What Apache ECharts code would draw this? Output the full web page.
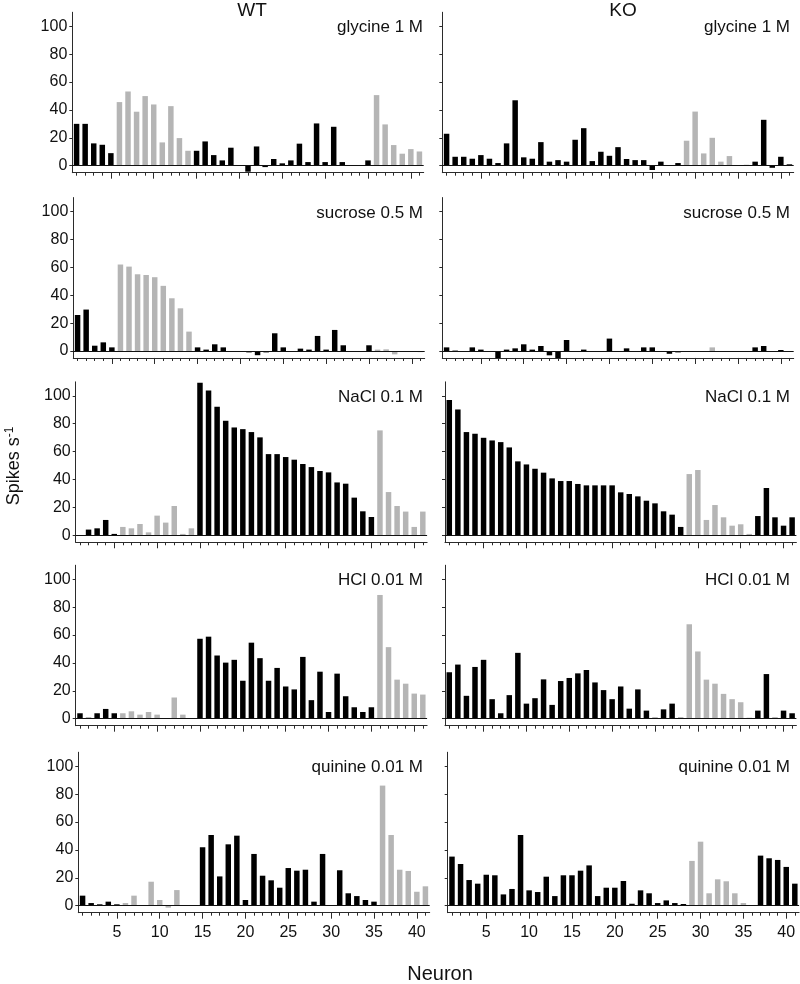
<!DOCTYPE html>
<html><head><meta charset="utf-8">
<script src="https://cdn.jsdelivr.net/npm/echarts@6/dist/echarts.min.js"></script>
<style>html,body{margin:0;padding:0;background:#fff}#c{width:800px;height:984px}</style>
</head><body><div id="c"></div>
<script>
// ---------- data ----------
const neurons = Array.from({length: 41}, (_, i) => String(i + 1));
const tastants = ['glycine 1 M', 'sucrose 0.5 M', 'NaCl 0.1 M', 'HCl 0.01 M', 'quinine 0.01 M'];
const genotypes = ['WT', 'KO'];
const yTickValues = [0, 20, 40, 60, 80, 100];
const wtGrayNeurons = [6, 7, 8, 9, 10, 11, 12, 13, 14, 36, 37, 38, 39, 40, 41];
const koGrayNeurons = [29, 30, 31, 32, 33, 34, 35, 36];

const wtGlycine = [30,30,16,15,9,45.6,53.2,38.7,49.9,43.9,16.7,42.7,19.8,10.7,10.7,17.4,7.6,3.8,12.9,0,-4.3,13.8,-1,4.8,1.7,3.8,15.8,2.6,30.3,2.6,27.9,2.6,0,0,3.8,50.6,29.6,14.8,8.6,11.9,10.2];
const koGlycine = [22.9,6.4,6.4,5,7.6,5,1.9,16,46.9,6,5,16.9,2.9,4,2.9,18.6,26.9,3.3,10,7.1,13.3,4.8,4,4,-3.1,2.9,0,1.9,17.9,38.8,8.8,20,2.9,6.9,0,0.7,2.9,32.9,-1.5,6.4,1];
const wtSucrose = [25.8,29.7,3.8,6.2,2.6,62,60.5,55,54.5,52.9,46.7,37.8,30.6,13.9,2.6,1,4.8,2.6,0,0,-1,-3,-1,12.7,2.6,0,1.7,1,10.8,1,15.1,4.1,0,0,4.1,1,1.2,-2.4,0,0,-0.8];
const koSucrose = [2.6,0.3,-0.5,2.6,1,0,-6,1,1.9,4.8,1,3.6,-3.1,-5.5,7.9,0,1,0,-0.7,8.9,0,1.9,0,2.6,2.6,0,-2,-1,-0.5,0,0,2.6,0,0,0,0,2.6,3.6,0,0.7,0];
const wtNaCl = [0,4.1,5,11,1,6,5,8.1,2.1,14.1,9.1,21,1,5,109.3,103.8,92.1,82.1,77.3,76.1,74,70.2,58.2,58.2,56.1,54.2,51.1,48.9,46.1,45.1,37.9,37,27,17.2,13.1,75.2,31,21,17,6,17];
const koNaCl = [96.9,90.2,74,72.8,69.9,68,66.8,63,53,50.8,47.7,44.9,40.8,38.9,38.9,36.8,35.8,35.8,35.8,35.8,30.8,29.6,27.9,24.8,22.9,17.2,14.8,6,43.9,46.8,11,21.7,12.9,6.9,7.9,1,13.8,33.9,12.9,6.9,12.9];
const wtHCl = [3.9,0.7,3.9,7,3.9,3.9,5.3,2.9,4.8,2.9,0,15.2,2.9,0,57.3,58.8,45.3,40.2,42.2,27.2,54.5,43.4,27.2,36.4,23.1,21,44.3,13.3,33.7,4.8,32.3,16.1,8.2,4.8,8.2,88.7,51.3,28,25.1,18,17.3];
const koHCl = [33.3,38.8,16.4,37.1,42.2,14,3.9,16.9,47.2,10.8,14.7,28.2,9.9,27,29.2,32.5,34.9,26,20.5,14,23.1,7.2,21,5.8,0.7,6.7,10.8,0.7,67.7,48.2,28,25.1,17.8,14,11.8,0.7,5.8,32,0.7,5.8,3.9];
const wtQuinine = [7.2,1.9,1,2.9,1,1.9,7.2,0,17.2,4.1,-1.4,11.2,0,0,41.9,50.7,21,44,50.2,4.1,37.1,21.5,18.2,12.9,27,25.1,25.8,2.9,37.1,0,25.4,8.9,6.9,4.1,2.9,86.1,50.7,25.8,24.9,10,13.9];
const koQuinine = [35.2,29.9,18.4,15.8,22.2,21.8,8.1,12,50.7,11,9.8,20.8,6.9,21.8,21.8,25.1,28.9,6.9,12.9,12.9,17.7,1.4,11,8.9,1.9,3.8,1.9,1.2,32.1,45.9,8.9,18.9,17.5,8.9,1.9,0,35.9,34,32.8,27.8,15.8];

const panelValues = [
  [wtGlycine, koGlycine],
  [wtSucrose, koSucrose],
  [wtNaCl, koNaCl],
  [wtHCl, koHCl],
  [wtQuinine, koQuinine]
];
const grayNeurons = [wtGrayNeurons, koGrayNeurons];

// ---------- layout ----------
const rowZeroY = [165.7, 351, 535.3, 718.7, 905.7];
const colAxisX = [[72.3, 442.3], [73.3, 442.3], [75.7, 445], [75.7, 445], [78.3, 447.7]];
const pxPerUnit = 1.395;
const yMin = -5, yMax = 110;
const plotW = 351.4;
const labelRightX = [423, 790];
const BLACK = '#000000', GRAY = '#b5b5b5', AXIS = '#2b2b2b';
const FONT = '"Liberation Sans", Arial, Helvetica, sans-serif';

const grids = [], xAxes = [], yAxes = [], series = [], graphics = [];
let g = 0;
for (let r = 0; r < 5; r++) {
  for (let c = 0; c < 2; c++) {
    const top = rowZeroY[r] - yMax * pxPerUnit;
    const height = (yMax - yMin) * pxPerUnit;
    grids.push({left: colAxisX[r][c], top: top, width: plotW, height: height, containLabel: false});
    const isBottom = r === 4;
    xAxes.push({
      type: 'category', gridIndex: g, data: neurons, position: 'bottom', offset: 0,
      axisLine: {show: true, onZero: false, lineStyle: {color: AXIS, width: 1}},
      axisTick: {show: true, alignWithLabel: true, interval: 0, length: 3, lineStyle: {color: AXIS, width: 1}},
      axisLabel: {show: isBottom, interval: (i) => (i + 1) % 5 === 0, fontSize: 16, color: '#111', fontFamily: FONT, margin: 12},
      splitLine: {show: false}
    });
    xAxes.push({
      type: 'category', gridIndex: g, data: neurons, position: 'bottom', offset: 0,
      axisLine: {show: false, onZero: false},
      axisTick: {show: true, alignWithLabel: true, interval: (i) => (i + 1) % 5 === 0, length: 6, lineStyle: {color: AXIS, width: 1}},
      axisLabel: {show: false},
      splitLine: {show: false}
    });
    yAxes.push({
      type: 'value', gridIndex: g, min: yMin, max: yMax,
      axisLine: {show: true, lineStyle: {color: AXIS, width: 1}},
      axisTick: {show: true, length: 3, customValues: yTickValues, lineStyle: {color: AXIS, width: 1}},
      axisLabel: {show: c === 0, customValues: yTickValues, fontSize: 16, color: '#111', fontFamily: FONT, margin: 5},
      splitLine: {show: false}
    });
    const vals = panelValues[r][c];
    const grays = grayNeurons[c];
    series.push({
      type: 'bar', xAxisIndex: 2 * g, yAxisIndex: g, barWidth: '64%', silent: true,
      data: vals.map((v, i) => ({value: v, itemStyle: {color: grays.includes(i + 1) ? GRAY : BLACK}})),
      markLine: {silent: true, symbol: 'none', animation: false, label: {show: false},
        lineStyle: {color: '#111', width: 1, type: 'solid'}, data: [{yAxis: 0}]}
    });
    graphics.push({
      type: 'text', right: 800 - labelRightX[c], top: rowZeroY[r] - 100 * pxPerUnit + 3 - 10,
      style: {text: tastants[r], font: '17px ' + FONT, fill: '#111'}
    });
    g++;
  }
}
graphics.push({type: 'text', x: 252, y: 11, style: {text: genotypes[0], font: '19px ' + FONT, fill: '#111', textAlign: 'center', textVerticalAlign: 'middle'}});
graphics.push({type: 'text', x: 623, y: 11, style: {text: genotypes[1], font: '19px ' + FONT, fill: '#111', textAlign: 'center', textVerticalAlign: 'middle'}});
graphics.push({type: 'text', x: 440, y: 974, style: {text: 'Neuron', font: '20px ' + FONT, fill: '#111', textAlign: 'center', textVerticalAlign: 'middle'}});
graphics.push({
  type: 'text', x: 14, y: 466, rotation: Math.PI / 2,
  style: {
    text: 'Spikes s{sup|-1}', font: '18px ' + FONT, fill: '#111', textAlign: 'center', textVerticalAlign: 'middle',
    rich: {sup: {fontSize: 12, fontFamily: FONT, fill: '#111', padding: [0, 0, 9, 0]}}
  }
});

const chart = echarts.init(document.getElementById('c'), null, {renderer: 'canvas'});
chart.setOption({
  animation: false,
  backgroundColor: '#ffffff',
  grid: grids, xAxis: xAxes, yAxis: yAxes, series: series, graphic: graphics
});
</script></body></html>
